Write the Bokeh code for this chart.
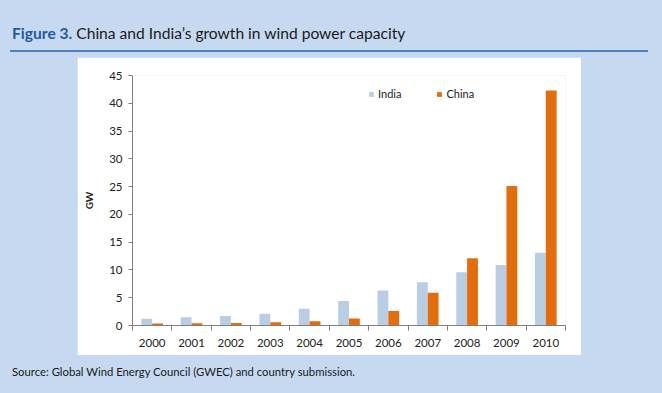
from bokeh.plotting import figure
from bokeh.models import (ColumnDataSource, FixedTicker, Legend, LegendItem, Range1d, Div)
from bokeh.layouts import column
from bokeh.transform import dodge
from bokeh.embed import file_html
from bokeh.resources import INLINE

years = [2000, 2001, 2002, 2003, 2004, 2005, 2006, 2007, 2008, 2009, 2010]
india = [1.2, 1.5, 1.7, 2.1, 3.0, 4.4, 6.3, 7.8, 9.6, 10.9, 13.1]
china = [0.35, 0.4, 0.47, 0.57, 0.76, 1.26, 2.6, 5.9, 12.1, 25.1, 42.3]
y_ticks = [0, 5, 10, 15, 20, 25, 30, 35, 40, 45]
tick_labels = {y: str(y) for y in years}

BG = "#C6D9F1"
INDIA_C = "#B9CDE5"
CHINA_C = "#E46C0A"
AXIS_C = "#808080"
FONT = "Lato"

src = ColumnDataSource(dict(year=years, india=india, china=china))

p = figure(width=504, height=298, output_backend="svg", toolbar_location=None,
           x_range=Range1d(years[0] - 0.5, years[-1] + 0.5),
           y_range=Range1d(y_ticks[0], y_ticks[-1]),
           min_border_left=55, min_border_right=16,
           min_border_top=18, min_border_bottom=30,
           margin=(0, 0, 0, 77))
p.background_fill_color = "white"
p.border_fill_color = "white"
p.outline_line_color = None
p.grid.visible = False

r_india = p.vbar(x=dodge("year", -0.1375, range=p.x_range), top="india", width=0.275,
                 source=src, fill_color=INDIA_C, line_color=None)
r_china = p.vbar(x=dodge("year", 0.1375, range=p.x_range), top="china", width=0.275,
                 source=src, fill_color=CHINA_C, line_color=None)

xa = p.xaxis[0]
xa.ticker = FixedTicker(ticks=years, minor_ticks=[y - 0.5 for y in years] + [years[-1] + 0.5])
xa.major_label_overrides = tick_labels
xa.major_tick_out = 0
xa.major_tick_in = 0
xa.minor_tick_out = 5
xa.minor_tick_in = 0
xa.minor_tick_line_color = AXIS_C
xa.axis_line_color = AXIS_C
xa.major_label_standoff = 8
xa.major_label_text_font = FONT
xa.major_label_text_font_size = "11.5px"
xa.major_label_text_color = "#222222"

ya = p.yaxis[0]
ya.ticker = FixedTicker(ticks=y_ticks)
ya.major_tick_out = 4
ya.major_tick_in = 0
ya.minor_tick_out = 0
ya.minor_tick_in = 0
ya.major_tick_line_color = AXIS_C
ya.axis_line_color = AXIS_C
ya.major_label_standoff = 6
ya.major_label_text_font = FONT
ya.major_label_text_font_size = "11.5px"
ya.major_label_text_color = "#222222"
ya.axis_label = "GW"
ya.axis_label_text_font = FONT
ya.axis_label_text_font_style = "bold"
ya.axis_label_text_font_size = "10px"
ya.axis_label_text_color = "#222222"
ya.axis_label_standoff = 11

legend = Legend(items=[LegendItem(label="India", renderers=[r_india]),
                       LegendItem(label="China", renderers=[r_china])],
                orientation="horizontal", location=(236, 225),
                glyph_width=6, glyph_height=6, label_height=12, label_standoff=4,
                spacing=35, padding=0, margin=0, border_line_color=None,
                background_fill_alpha=0, label_text_font=FONT,
                label_text_font_size="11px", label_text_color="#222222")
p.add_layout(legend)

title_html = (
    '<div style="position:relative;width:662px;height:57px;">'
    '<div style="position:absolute;left:12px;top:24px;font-family:Lato;font-size:15.6px;'
    'line-height:19px;white-space:nowrap;color:#1a1a1a;">'
    '<span style="font-weight:bold;color:#1F5C9E;">Figure 3.</span> '
    'China and India\u2019s growth in wind power capacity</div>'
    '<div style="position:absolute;left:10px;top:50px;width:638px;height:2px;'
    'background:#4F81BD;"></div></div>'
)
title_div = Div(text=title_html, width=662, height=57, margin=0)

source_html = (
    '<div style="position:relative;width:662px;height:38px;">'
    '<div style="position:absolute;left:12px;top:10px;font-family:Lato;font-size:11.3px;'
    'line-height:14px;white-space:nowrap;color:#1a1a1a;">'
    'Source: Global Wind Energy Council (GWEC) and country submission.</div></div>'
)
source_div = Div(text=source_html, width=662, height=38, margin=0)

layout = column(title_div, p, source_div, width=662, height=393, spacing=0,
                styles={"background-color": BG})

open("out.html", "w").write(file_html(layout, INLINE))
